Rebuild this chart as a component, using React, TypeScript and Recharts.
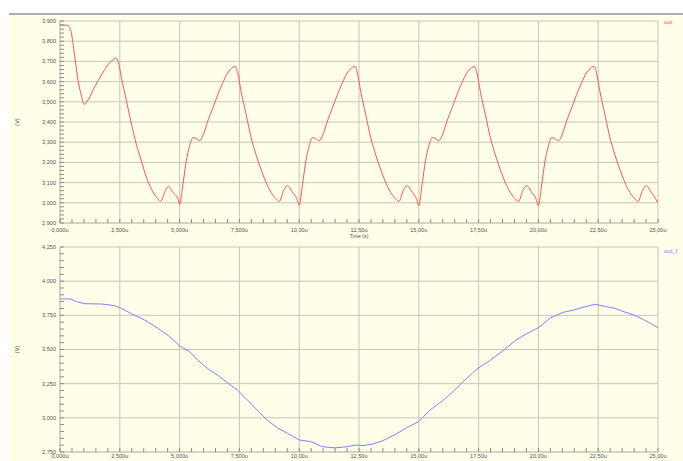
import React from 'react';
import { LineChart, Line, XAxis, YAxis, ReferenceLine, Legend } from 'recharts';

// ---------- data ----------
const outTime = [
  0, 0.2, 0.35, 0.49, 0.625, 0.76, 0.9, 1.01, 1.18, 1.46, 1.74, 2.01, 2.2, 2.32, 2.43, 2.57, 2.78, 2.99, 3.19, 3.4, 3.61, 3.82, 4.03, 4.21, 4.375, 4.54, 4.72, 4.93, 5.0,
  5.14, 5.28, 5.42, 5.56, 5.69, 5.83, 5.97, 6.18, 6.39, 6.6, 6.8, 7.01, 7.22, 7.33, 7.43, 7.57, 7.78, 7.99, 8.19, 8.4, 8.61, 8.82, 9.03, 9.17, 9.35, 9.51, 9.72, 9.9, 10.0,
  10.14, 10.28, 10.42, 10.56, 10.69, 10.83, 10.97, 11.18, 11.39, 11.6, 11.8, 12.01, 12.22, 12.33, 12.43, 12.57, 12.78, 12.99, 13.19, 13.4, 13.61, 13.82, 14.03, 14.17, 14.35, 14.51, 14.72, 14.9, 15.0,
  15.14, 15.28, 15.42, 15.56, 15.69, 15.83, 15.97, 16.18, 16.39, 16.6, 16.8, 17.01, 17.22, 17.33, 17.43, 17.57, 17.78, 17.99, 18.19, 18.4, 18.61, 18.82, 19.03, 19.17, 19.35, 19.51, 19.72, 19.9, 20.0,
  20.14, 20.28, 20.42, 20.56, 20.69, 20.83, 20.97, 21.18, 21.39, 21.6, 21.8, 22.01, 22.22, 22.33, 22.43, 22.57, 22.78, 22.99, 23.19, 23.4, 23.61, 23.82, 24.03, 24.17, 24.35, 24.51, 24.72, 24.9, 25.0,
];
const outVolt = [
  3880, 3880, 3876, 3831, 3716, 3602, 3528, 3487, 3511, 3577, 3634, 3684, 3706, 3716, 3700, 3618, 3503, 3389, 3290, 3208, 3126, 3069, 3028, 3008, 3052, 3082, 3052, 3020, 2992,
  3093, 3208, 3282, 3323, 3318, 3307, 3331, 3405, 3470, 3536, 3593, 3643, 3670, 3675, 3643, 3552, 3438, 3323, 3241, 3167, 3102, 3052, 3020, 3007, 3061, 3085, 3052, 3020, 2988,
  3093, 3208, 3282, 3323, 3318, 3307, 3331, 3405, 3470, 3536, 3593, 3643, 3670, 3675, 3643, 3552, 3438, 3323, 3241, 3167, 3102, 3052, 3020, 3007, 3061, 3085, 3052, 3020, 2986,
  3093, 3208, 3282, 3323, 3318, 3307, 3331, 3405, 3470, 3536, 3593, 3643, 3670, 3675, 3643, 3552, 3438, 3323, 3241, 3167, 3102, 3052, 3020, 3007, 3061, 3085, 3052, 3020, 2986,
  3093, 3208, 3282, 3323, 3318, 3307, 3331, 3405, 3470, 3536, 3593, 3643, 3670, 3675, 3643, 3552, 3438, 3323, 3241, 3167, 3102, 3052, 3020, 3007, 3061, 3085, 3052, 3020, 2998,
];

const outfTime = [
  0, 0.42, 0.69, 1.04, 1.74, 2.29, 2.57, 2.99, 3.54, 4.1, 4.58, 5.0, 5.42, 5.76, 6.18, 6.6, 7.01, 7.43, 7.78, 8.19, 8.68, 9.1, 9.51, 10.0,
  10.49, 10.97, 11.5, 12.0, 12.39, 12.67, 13.08, 13.5, 14.06, 14.47, 15.0, 15.45, 16.0, 16.42, 16.84, 17.4, 17.95, 18.5, 19.06, 19.5, 20.0,
  20.5, 21.0, 21.5, 22.0, 22.37, 22.8, 23.2, 23.6, 24.0, 24.4, 24.7, 25.0,
];
const outfVolt = [
  3870, 3870, 3850, 3835, 3833, 3821, 3801, 3762, 3716, 3654, 3595, 3527, 3483, 3422, 3360, 3311, 3255, 3201, 3140, 3066, 2980, 2926, 2887, 2838,
  2826, 2789, 2780, 2789, 2801, 2797, 2809, 2833, 2882, 2926, 2973, 3054, 3127, 3189, 3262, 3353, 3417, 3488, 3569, 3615, 3660,
  3730, 3770, 3790, 3815, 3831, 3815, 3801, 3775, 3752, 3718, 3690, 3658,
];

const xMajorTicks = [0, 2.5, 5, 7.5, 10, 12.5, 15, 17.5, 20, 22.5, 25];
const xTickLabels = ['0,000u', '2,500u', '5,000u', '7,500u', '10,00u', '12,50u', '15,00u', '17,50u', '20,00u', '22,50u', '25,00u'];

const topYMajorTicks = [2900, 3000, 3100, 3200, 3300, 3400, 3500, 3600, 3700, 3800, 3900];
const topYTickLabels = ['2,900', '3,000', '3,100', '3,200', '3,300', '3,400', '3,500', '3,600', '3,700', '3,800', '3,900'];

const botYMajorTicks = [2750, 3000, 3250, 3500, 3750, 4000, 4250];
const botYTickLabels = ['2,750', '3,000', '3,250', '3,500', '3,750', '4,000', '4,250'];

// ---------- styling ----------
const CREAM = '#fefee9';
const GRID = '#c6c6ba';
const TICK = '#8a8a80';
const LABEL = '#555555';
const RED = '#ff5454';
const BLUE = '#8080ff';
const FONT = '"Liberation Sans", Arial, sans-serif';

const minorTicks = (lo: number, hi: number, n: number) => {
  const out: number[] = [];
  for (let i = 0; i <= n; i++) out.push(+(lo + ((hi - lo) * i) / n).toFixed(4));
  return out;
};

const xAllTicks = minorTicks(0, 25, 50);
const topYAllTicks = minorTicks(2900, 3900, 50);
const botYAllTicks = minorTicks(2750, 4250, 30);

const findLabel = (v: number, majors: number[], labels: string[]) => {
  const i = majors.findIndex((m) => Math.abs(m - v) < 1e-6);
  return i >= 0 ? labels[i] : null;
};

const makeXTick = (labelOffset: number) => (props: any) => {
  const { x, y, payload } = props;
  const lab = findLabel(payload.value, xMajorTicks, xTickLabels);
  return (
    <g>
      <line x1={x} x2={x} y1={y} y2={y - 4} stroke={TICK} strokeWidth={1} />
      {lab && (
        <text x={x} y={y + labelOffset} dy="0.71em" textAnchor="middle" fill={LABEL}
          style={{ fontSize: 5.6, fontFamily: FONT }}>{lab}</text>
      )}
    </g>
  );
};

const makeYTick = (majors: number[], labels: string[]) => (props: any) => {
  const { x, y, payload } = props;
  const lab = findLabel(payload.value, majors, labels);
  return (
    <g>
      <line x1={x} x2={x + 4} y1={y} y2={y} stroke={TICK} strokeWidth={1} />
      {lab && (
        <text x={x - 4} y={y} dy="0.35em" textAnchor="end" fill={LABEL}
          style={{ fontSize: 5.6, fontFamily: FONT }}>{lab}</text>
      )}
    </g>
  );
};

const vLabel = (props: any) => {
  const vb = props.viewBox || {};
  const cx = vb.x + vb.width - 42.5;
  const cy = vb.y + vb.height / 2;
  return (
    <text x={cx} y={cy} dy="0.35em" textAnchor="middle" fill={LABEL} transform={`rotate(-90, ${cx}, ${cy})`}
      style={{ fontSize: 5.6, fontFamily: FONT }}>(V)</text>
  );
};

const timeLabel = (props: any) => {
  const vb = props.viewBox || {};
  return (
    <text x={vb.x + vb.width / 2} y={vb.y + 11.5} dy="0.71em" textAnchor="middle" fill={LABEL}
      style={{ fontSize: 5.2, fontFamily: FONT }}>Time (s)</text>
  );
};

const legendContent = (props: any) => (
  <div style={{ fontFamily: FONT, fontSize: 6, lineHeight: '7px' }}>
    {(props.payload || []).map((p: any) => (
      <div key={p.value} style={{ color: p.color }}>{p.value}</div>
    ))}
  </div>
);

const outData = outTime.map((t, i) => ({ t, v: outVolt[i] }));
const outfData = outfTime.map((t, i) => ({ t, v: outfVolt[i] }));

export default function App() {
  return (
    <div style={{ position: 'absolute', left: 0, top: 0, width: 683, height: 461, background: '#ffffff', overflow: 'hidden' }}>
      <div style={{ position: 'absolute', left: 9, top: 13, width: 674, height: 448, background: CREAM, borderTop: '2px solid #acacac', boxSizing: 'border-box' }} />
      <div style={{ position: 'absolute', left: 0, top: 0 }}>
        <LineChart width={683} height={245} data={outData} margin={{ top: 21, right: 25, bottom: 0, left: 0 }}>
          {xMajorTicks.map((v) => (
            <ReferenceLine key={'x' + v} x={v} stroke={GRID} strokeWidth={1} />
          ))}
          {topYMajorTicks.map((v) => (
            <ReferenceLine key={'y' + v} y={v} stroke={GRID} strokeWidth={1} />
          ))}
          <XAxis type="number" dataKey="t" domain={[0, 25]} ticks={xAllTicks} interval={0} height={22}
            tickSize={0} tickMargin={0} tickLine={false} axisLine={{ stroke: GRID }} tick={makeXTick(5.5)}
            allowDataOverflow label={timeLabel} />
          <YAxis type="number" domain={[2900, 3900]} ticks={topYAllTicks} interval={0} width={60}
            tickSize={0} tickMargin={0} tickLine={false} axisLine={{ stroke: GRID }}
            tick={makeYTick(topYMajorTicks, topYTickLabels)} allowDataOverflow label={vLabel} />
          <Legend layout="vertical" align="center" verticalAlign="middle" content={legendContent}
            wrapperStyle={{ left: 664, top: 19, width: 20, height: 8 }} />
          <Line type="monotone" dataKey="v" name="out" stroke={RED} strokeWidth={1} dot={false} isAnimationActive={false} />
        </LineChart>
      </div>
      <div style={{ position: 'absolute', left: 0, top: 226 }}>
        <LineChart width={683} height={235} data={outfData} margin={{ top: 21, right: 25, bottom: 0, left: 0 }}>
          {xMajorTicks.map((v) => (
            <ReferenceLine key={'x' + v} x={v} stroke={GRID} strokeWidth={1} />
          ))}
          {botYMajorTicks.map((v) => (
            <ReferenceLine key={'y' + v} y={v} stroke={GRID} strokeWidth={1} />
          ))}
          <XAxis type="number" dataKey="t" domain={[0, 25]} ticks={xAllTicks} interval={0} height={9}
            tickSize={0} tickMargin={0} tickLine={false} axisLine={{ stroke: GRID }} tick={makeXTick(2.5)}
            allowDataOverflow />
          <YAxis type="number" domain={[2750, 4250]} ticks={botYAllTicks} interval={0} width={60}
            tickSize={0} tickMargin={0} tickLine={false} axisLine={{ stroke: GRID }}
            tick={makeYTick(botYMajorTicks, botYTickLabels)} allowDataOverflow label={vLabel} />
          <Legend layout="vertical" align="center" verticalAlign="middle" content={legendContent}
            wrapperStyle={{ left: 664, top: 22, width: 24, height: 8 }} />
          <Line type="linear" dataKey="v" name="out_f" stroke={BLUE} strokeWidth={1} dot={false} isAnimationActive={false} />
        </LineChart>
      </div>
    </div>
  );
}
